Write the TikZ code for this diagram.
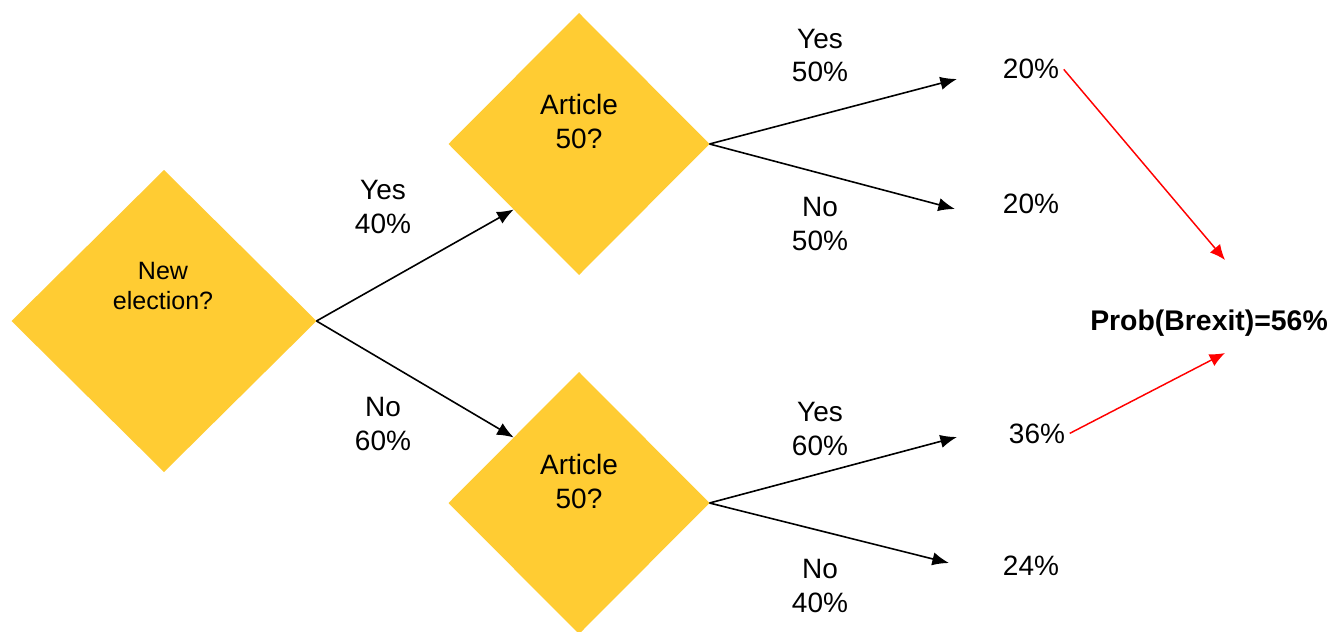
\documentclass[tikz,border=0pt]{standalone}
\usepackage{fontspec}
\setmainfont{Liberation Sans}
\usetikzlibrary{shapes.geometric, arrows.meta, positioning, calc}
\definecolor{cDecisionFill}{RGB}{255, 204, 51}
\definecolor{cRedLine}{RGB}{255, 0, 0}
\definecolor{lineColor}{RGB}{0, 0, 0}
\tikzset{
    % --- decision blocks ---
    styleDecision/.style={
        diamond, fill=cDecisionFill, draw=none,
        inner sep=0pt, outer sep=0pt
    },
    % --- texts (anchor base = last line) ---
    styleQText/.style={
        font=\fontsize{21}{25}\selectfont, align=center,
        anchor=base, inner sep=0pt
    },
    styleBranch/.style={
        font=\fontsize{21}{25}\selectfont, align=center,
        anchor=base, inner sep=0pt
    },
    styleProb/.style={
        font=\fontsize{21}{25}\selectfont, anchor=base
    },
    styleResult/.style={
        font=\bfseries\fontsize{21.3}{25}\selectfont, anchor=base
    },
    % --- connectors ---
    conn/.style={
        draw=lineColor, line width=1.2pt,
        -{Latex[length=12.5pt, width=10pt]}
    },
    connRed/.style={
        draw=cRedLine, line width=1.1pt,
        -{Latex[length=11.5pt, width=10pt]}
    }
}

\begin{document}
\begin{tikzpicture}[x=0.75pt, y=-0.75pt]

	% =========================================================
	% canvas
	% =========================================================
	\fill[white] (0,0) rectangle (1333,631);
	\useasboundingbox (0,0) rectangle (1333,631);

	% =========================================================
	% decisions
	% =========================================================
	\node [styleDecision, minimum width=228.75pt, minimum height=226.5pt] (q_el) at (164,321) {};
	\node [styleDecision, minimum width=195.75pt, minimum height=196.5pt] (q_a1) at (579,144) {};
	\node [styleDecision, minimum width=195.75pt, minimum height=196.5pt] (q_a2) at (579,503) {};

	\node [styleQText, font=\fontsize{18.8}{22.5}\selectfont] (q_el_t) at (163,309) {New\\election?};
	\node [styleQText] (q_a1_t) at (579,148) {Article\\50?};
	\node [styleQText] (q_a2_t) at (579,508) {Article\\50?};

	% =========================================================
	% branch labels
	% =========================================================
	\node [styleBranch] (b_el_y) at (383,233) {Yes\\40\%};
	\node [styleBranch] (b_el_n) at (383,450) {No\\60\%};
	\node [styleBranch] (b_a1_y) at (820,82) {Yes\\50\%};
	\node [styleBranch] (b_a1_n) at (820,250) {No\\50\%};
	\node [styleBranch] (b_a2_y) at (820,455) {Yes\\60\%};
	\node [styleBranch] (b_a2_n) at (820,612) {No\\40\%};

	% =========================================================
	% outcomes
	% =========================================================
	\node [styleProb] (p_1) at (1031,79) {20\%};
	\node [styleProb] (p_2) at (1031,213) {20\%};
	\node [styleProb] (p_3) at (1037,443) {36\%};
	\node [styleProb] (p_4) at (1031,575) {24\%};

	\node [styleResult] (res) at (1209,330) {Prob(Brexit)=56\%};

	\coordinate (p_1_in) at (957,79);
	\coordinate (p_2_in) at (955,209);
	\coordinate (p_3_in) at (957,437);
	\coordinate (p_4_in) at (949,563);
	\coordinate (res_in1) at (1225,260);
	\coordinate (res_in2) at (1225,353);

	% =========================================================
	% connectors
	% =========================================================
	\draw [conn] (q_el.east) -- (q_a1.south west);
	\draw [conn] (q_el.east) -- (q_a2.north west);
	\draw [conn] (q_a1.east) -- (p_1_in);
	\draw [conn] (q_a1.east) -- (p_2_in);
	\draw [conn] (q_a2.east) -- (p_3_in);
	\draw [conn] (q_a2.east) -- (p_4_in);

	\draw [connRed] (p_1.east) -- (res_in1);
	\draw [connRed] (p_3.east) -- (res_in2);

\end{tikzpicture}
\end{document}
